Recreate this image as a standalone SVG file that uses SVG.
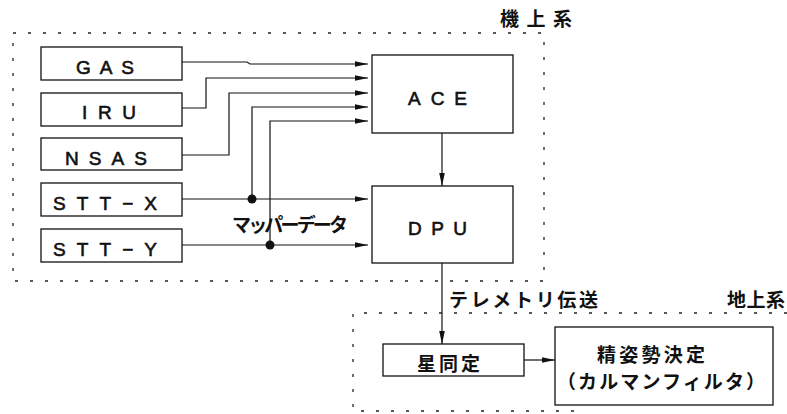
<svg xmlns="http://www.w3.org/2000/svg" width="787" height="414" viewBox="0 0 787 414">
<style>
.box{fill:#fff;stroke:#111;stroke-width:1.3}
.dot{fill:none;stroke:#222;stroke-width:1.3;stroke-dasharray:3 12}
.ln{fill:none;stroke:#111;stroke-width:1.2}
.lbl{font-family:"Liberation Sans","Noto Sans CJK JP",sans-serif;font-size:19px;fill:#111;stroke:#111;stroke-width:0.6}
.jp{font-family:"Noto Sans CJK JP",sans-serif;font-size:19px;font-weight:bold;fill:#111}
</style>
<defs>
<marker id="ah" markerWidth="13" markerHeight="8" refX="13" refY="4" orient="auto" markerUnits="userSpaceOnUse">
<path d="M0,1.2 L13,4 L0,6.8 Z" fill="#111"/>
</marker>
</defs>
<rect width="787" height="414" fill="#fff"/>
<g id="onboard-frame">
<path class="dot" d="M13,33 H544 V281 H13 Z"/>
<text class="jp" x="500" y="26" font-size="20" textLength="72" lengthAdjust="spacing">機上系</text>
</g>
<g id="ground-frame">
<path class="dot" d="M787,313 H353 V411 H578"/>
<text class="jp" x="727" y="307" textLength="58" lengthAdjust="spacing">地上系</text>
</g>
<g id="GAS"><rect class="box" x="41" y="47" width="141" height="33"/><text class="lbl" x="76" y="74" textLength="58" lengthAdjust="spacing">GAS</text></g>
<g id="IRU"><rect class="box" x="41" y="93" width="141" height="33"/><text class="lbl" x="82" y="119" textLength="54" lengthAdjust="spacing">IRU</text></g>
<g id="NSAS"><rect class="box" x="41" y="138" width="141" height="32"/><text class="lbl" x="65" y="165" textLength="82" lengthAdjust="spacing">NSAS</text></g>
<g id="STT-X"><rect class="box" x="41" y="183" width="141" height="33"/><text class="lbl" x="53" y="210" textLength="104" lengthAdjust="spacing">STT−X</text></g>
<g id="STT-Y"><rect class="box" x="41" y="229" width="141" height="33"/><text class="lbl" x="53" y="256" textLength="104" lengthAdjust="spacing">STT−Y</text></g>
<g id="ACE"><rect class="box" x="372" y="55" width="141" height="78"/><text class="lbl" x="408" y="105" textLength="59" lengthAdjust="spacing">ACE</text></g>
<g id="DPU"><rect class="box" x="372" y="186" width="141" height="77"/><text class="lbl" x="408" y="235" textLength="59" lengthAdjust="spacing">DPU</text></g>
<g id="star-id"><rect class="box" x="383" y="344" width="141" height="32"/><text class="jp" x="417" y="371" textLength="63" lengthAdjust="spacing">星同定</text></g>
<g id="fine-attitude"><rect class="box" x="555" y="327" width="218" height="78"/>
<text class="jp" x="597" y="362" textLength="108" lengthAdjust="spacing">精姿勢決定</text>
<text class="jp" x="557" y="389" textLength="208" lengthAdjust="spacing">（カルマンフィルタ）</text></g>
<g id="connectors">
<path class="ln" d="M182,62 H247 L250,64 H368" marker-end="url(#ah)"/>
<path class="ln" d="M182,108 H206 V78 H368" marker-end="url(#ah)"/>
<path class="ln" d="M182,155 H229 V93 H368" marker-end="url(#ah)"/>
<path class="ln" d="M252,199 V107 H368" marker-end="url(#ah)"/>
<path class="ln" d="M270,245 V121 H368" marker-end="url(#ah)"/>
<path class="ln" d="M182,199 H368" marker-end="url(#ah)"/>
<path class="ln" d="M182,245 H368" marker-end="url(#ah)"/>
<circle cx="252" cy="199" r="4.5" fill="#111"/>
<circle cx="270" cy="245" r="4.5" fill="#111"/>
<path class="ln" d="M442,133 V186" marker-end="url(#ah)"/>
<path class="ln" d="M442,263 V344" marker-end="url(#ah)"/>
<path class="ln" d="M524,360 H555" marker-end="url(#ah)"/>
<text class="jp" x="232" y="232" font-size="15" textLength="116" lengthAdjust="spacing">マッパーデータ</text>
<text class="jp" x="449" y="307" textLength="149" lengthAdjust="spacing">テレメトリ伝送</text>
</g>
</svg>
